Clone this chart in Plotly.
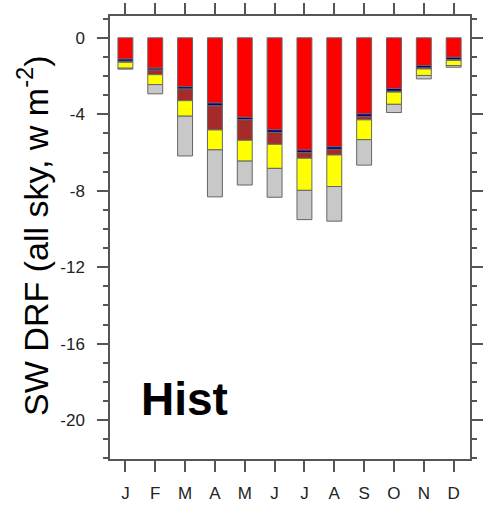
import plotly.graph_objects as go

# Monthly shortwave direct radiative forcing by component (W m-2), stacked downward
months = list(range(1, 13))
month_labels = ["J", "F", "M", "A", "M", "J", "J", "A", "S", "O", "N", "D"]

sulfate = [-1.11, -1.59, -2.56, -3.41, -4.16, -4.81, -5.87, -5.70, -3.98, -2.65, -1.45, -1.02]
black_carbon = [-0.12, -0.10, -0.12, -0.15, -0.13, -0.14, -0.14, -0.14, -0.14, -0.15, -0.13, -0.12]
organic_carbon = [-0.05, -0.24, -0.61, -1.26, -1.07, -0.62, -0.29, -0.29, -0.17, -0.04, -0.05, -0.04]
dust = [-0.31, -0.52, -0.81, -1.04, -1.09, -1.26, -1.68, -1.65, -1.04, -0.64, -0.34, -0.27]
sea_salt = [-0.05, -0.48, -2.08, -2.46, -1.25, -1.51, -1.53, -1.81, -1.33, -0.43, -0.18, -0.09]

y_ticks = [0, -4, -8, -12, -16, -20]

components = [
    ("Sulfate", sulfate, "#FF0000"),
    ("BC", black_carbon, "#000080"),
    ("OC", organic_carbon, "#A52A2A"),
    ("Dust", dust, "#FFFF00"),
    ("Sea salt", sea_salt, "#C8C8C8"),
]

fig = go.Figure()
for name, vals, color in components:
    fig.add_trace(go.Bar(
        x=months, y=vals, name=name, width=0.5,
        marker=dict(color=color, line=dict(color="#666666", width=1)),
        showlegend=False,
    ))

axis_color = "#555555"
font_family = "Liberation Sans, Arial, sans-serif"

fig.update_layout(
    barmode="relative",
    width=486, height=506,
    margin=dict(l=110, r=3, t=15, b=45),
    paper_bgcolor="white", plot_bgcolor="white",
    font=dict(family=font_family, color="black"),
    xaxis=dict(
        range=[0.484, 12.548],
        tickmode="array", tickvals=months, ticktext=month_labels,
        ticks="outside", ticklen=11, tickwidth=1.5, tickcolor=axis_color,
        tickfont=dict(size=17, color="#222222"), ticklabelstandoff=7,
        showline=True, linecolor=axis_color, linewidth=1.5, mirror="ticks",
        showgrid=False, zeroline=False,
    ),
    yaxis=dict(
        range=[-22.03, 1.14],
        tickmode="array", tickvals=y_ticks,
        ticktext=[str(v) for v in y_ticks],
        ticks="outside", ticklen=11, tickwidth=1.5, tickcolor=axis_color,
        tickfont=dict(size=17, color="#222222"), ticklabelstandoff=9,
        minor=dict(dtick=1, tick0=0, ticks="outside", ticklen=5,
                   tickwidth=1.5, tickcolor=axis_color, showgrid=False),
        showline=True, linecolor=axis_color, linewidth=1.5, mirror="ticks",
        showgrid=False, zeroline=False,
    ),
    annotations=[
        dict(
            text="SW DRF (all sky, w m<sup>-2</sup>)", textangle=-90,
            xref="paper", yref="paper", x=-0.215, y=0.505,
            xanchor="center", yanchor="middle", showarrow=False,
            font=dict(size=34, color="black", family=font_family),
        ),
        dict(
            text="<b>Hist</b>", xref="paper", yref="paper",
            x=0.080, y=0.136, xanchor="left", yanchor="middle",
            showarrow=False, font=dict(size=46, color="black", family=font_family),
        ),
    ],
)

fig.write_html("out.html")
